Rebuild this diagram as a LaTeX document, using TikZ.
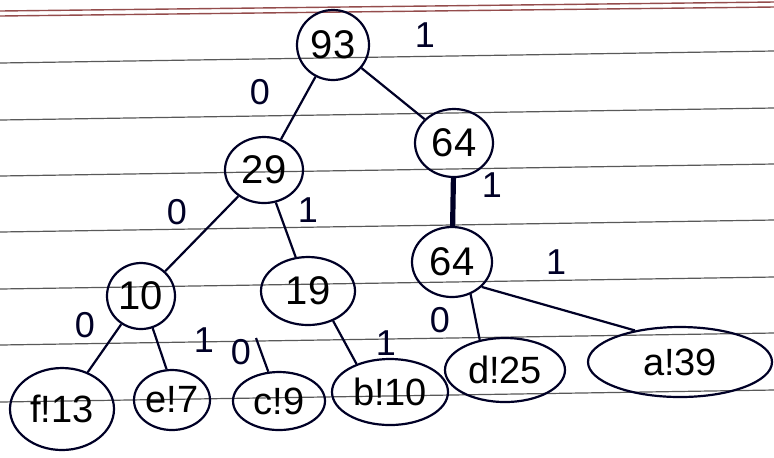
\documentclass[tikz,border=0pt]{standalone}
\usepackage{fontspec}
\setmainfont{Liberation Sans}
\usetikzlibrary{shapes.geometric}

\begin{document}
\begin{tikzpicture}[
  x=0.5pt, y=-0.5pt,
  ink/.style={draw=black!85!blue, line width=1.1pt},
  knot/.style={
    ink, ellipse, inner sep=0pt,
    font=\fontsize{20}{24}\selectfont
  },
  leaf/.style={
    ink, ellipse, inner sep=0pt,
    font=\fontsize{19}{23}\selectfont
  },
  bit/.style={font=\fontsize{18}{22}\selectfont, text=black!85!blue},
  rule/.style={draw=black!65, line width=0.6pt},
  margin/.style={draw=red!40!black!70, line width=0.7pt},
  edge/.style={ink},
]
\useasboundingbox[fill=white] (0,0) rectangle (774,457);
% ruled paper
\draw[margin] (0,11) -- (774,2);
\draw[margin] (0,16) -- (774,7);
\foreach \yy in {63,120,176,232,289,345,402}
  \draw[rule] (0,\yy) -- (774,\yy-12);

% internal nodes
\node[knot, minimum width=36pt, minimum height=35pt] (n93)  at (333,45)  {93};
\node[knot, minimum width=39pt, minimum height=33pt] (n29)  at (264,170) {29};
\node[knot, minimum width=39pt, minimum height=34pt] (n64)  at (454,143) {64};
\node[knot, minimum width=40pt, minimum height=35pt] (m64)  at (452,262) {64};
\node[knot, minimum width=34pt, minimum height=33pt] (n10)  at (141,296) {10};
\node[knot, minimum width=47pt, minimum height=34pt] (n19)  at (308,291) {19};

% leaves
\node[leaf, minimum width=52pt, minimum height=41pt] (f13) at (62,409)  {f!13};
\node[leaf, minimum width=38pt, minimum height=30pt] (e7)  at (172,400) {e!7};
\node[leaf, minimum width=46pt, minimum height=29pt] (c9)  at (279,401) {c!9};
\node[leaf, minimum width=58pt, minimum height=33pt] (b10) at (390,392) {b!10};
\node[leaf, minimum width=60pt, minimum height=32pt] (d25) at (505,370) {d!25};
\node[leaf, minimum width=92pt, minimum height=35pt] (a39) at (680,362) {a!39};

\coordinate (cstub) at (256,338);

% connectors
\draw[edge] (n93) -- (n29);
\draw[edge] (n93) -- (n64);
\draw[ink, line width=2.6pt] (n64) -- (m64);
\draw[edge] (n29) -- (n10);
\draw[edge] (n29) -- (n19);
\draw[edge] (n10) -- (f13);
\draw[edge] (n10.-70) -- (e7.100);
\draw[edge] (cstub) -- (c9);
\draw[edge] (n19.-50) -- (b10.140);
\draw[edge] (m64.-60) -- (d25.130);
\draw[edge] (m64.-40) -- (a39.145);

% bits
\node[bit] (b1) at (425,35)  {1};
\node[bit] (b2) at (260,92)  {0};
\node[bit] (b3) at (177,212) {0};
\node[bit] (b4) at (308,210) {1};
\node[bit] (b5) at (492,185) {1};
\node[bit] (b6) at (85,325)  {0};
\node[bit] (b7) at (204,340) {1};
\node[bit] (b8) at (241,352) {0};
\node[bit] (b9) at (386,343) {1};
\node[bit] (b10) at (440,320) {0};
\node[bit] (b11) at (556,262) {1};
\end{tikzpicture}
\end{document}
